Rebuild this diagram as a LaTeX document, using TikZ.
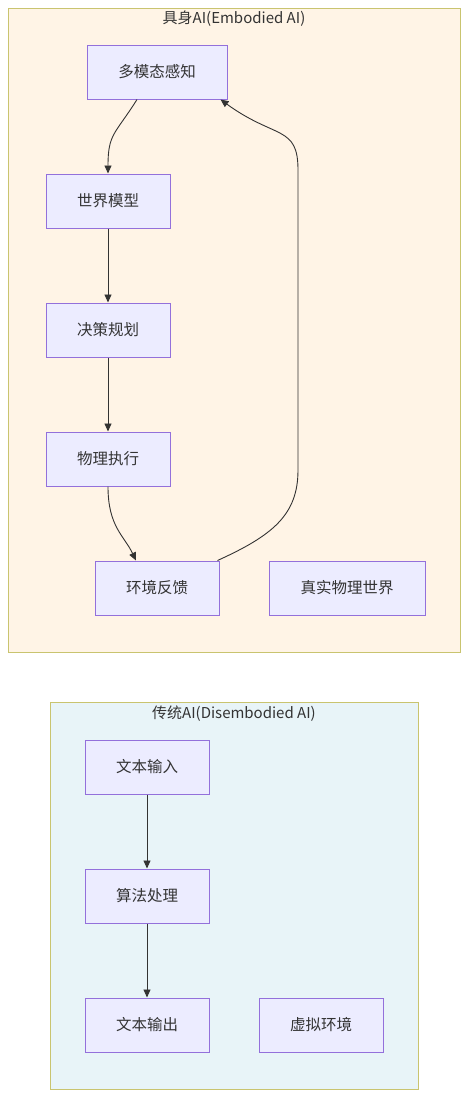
\documentclass[tikz,border=0pt]{standalone}
\usepackage{fontspec}
\setmainfont{Noto Sans CJK SC}
\usepackage{xcolor}
\usepackage{tikz}
\usetikzlibrary{arrows.meta,positioning}
\definecolor{nodefill}{HTML}{ECECFF}
\definecolor{nodeline}{HTML}{9370DB}
\definecolor{emfill}{HTML}{FFF4E6}
\definecolor{disfill}{HTML}{E8F4F8}
\definecolor{clusterline}{HTML}{C9C46F}
\definecolor{textgray}{HTML}{333333}

\begin{document}
\begin{tikzpicture}[
    x=1pt, y=-1pt,
    cluster/.style={rectangle, draw=clusterline, line width=1pt, inner sep=0pt},
    ctitle/.style={font=\fontsize{15}{18}\selectfont, text=textgray},
    mbox/.style={rectangle, draw=nodeline, fill=nodefill, line width=1pt, minimum width=124pt, minimum height=54pt, align=center, font=\fontsize{15.5}{18}\selectfont, text=textgray},
    arrow/.style={-{Triangle[length=8pt,width=7pt]}, line width=0.9pt, draw=textgray},
    node distance=74pt
]
    \useasboundingbox (0,0) rectangle (469,1098);

    % Clusters
    \node[cluster, fill=emfill, minimum width=452pt, minimum height=644pt] (emb) at (234,330) {};
    \node[ctitle] (embt) at (234,19) {具身AI(Embodied AI)};
    \node[cluster, fill=disfill, minimum width=368pt, minimum height=387pt] (dis) at (234,895.5) {};
    \node[ctitle] (dist) at (234,714) {传统AI(Disembodied AI)};

    % Embodied chain
    \node[mbox, minimum width=140pt] (perc) at (157,72) {多模态感知};
    \node[mbox] (world) at (108,201) {世界模型};
    \node[mbox, below=of world] (plan) {决策规划};
    \node[mbox, below=of plan] (act) {物理执行};
    \node[mbox] (env) at (157,588) {环境反馈};
    \node[mbox, minimum width=156pt] (real) at (347,588) {真实物理世界};

    % Disembodied chain
    \node[mbox] (tin) at (147,767) {文本输入};
    \node[mbox, below=of tin] (algo) {算法处理};
    \node[mbox, below=of algo] (tout) {文本输出};
    \node[mbox] (virt) at (321,1025) {虚拟环境};

    % Feedback route
    \coordinate (fb1) at (298,470);
    \coordinate (fb2) at (298,170);

    % Arrows
    \draw[arrow] ([xshift=-20pt]perc.south) .. controls +(-22,35) and +(0,-40) .. (world.north);
    \draw[arrow] (world) -- (plan);
    \draw[arrow] (plan) -- (act);
    \draw[arrow] (act.south) .. controls +(0,40) and +(-12,-25) .. ([xshift=-21pt]env.north);
    \draw[arrow] ([xshift=-2pt]env.north east) .. controls +(55,-25) and +(0,45) .. (fb1) -- (fb2) .. controls +(0,-45) and +(55,40) .. ([xshift=-7pt]perc.south east);
    \draw[arrow] (tin) -- (algo);
    \draw[arrow] (algo) -- (tout);
\end{tikzpicture}
\end{document}
